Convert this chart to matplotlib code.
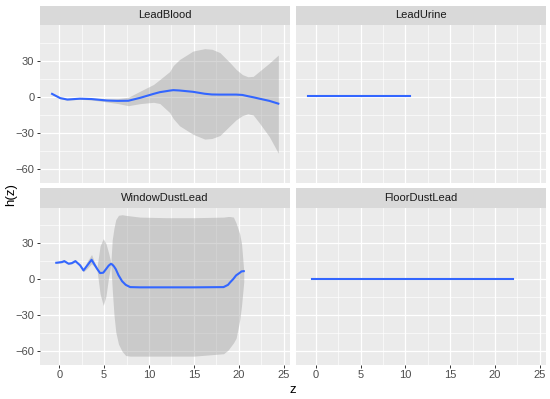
import numpy as np
import matplotlib.pyplot as plt
from matplotlib.ticker import MultipleLocator

plt.rcParams['font.family'] = ['Liberation Sans', 'DejaVu Sans']

# ---- data ----
blood_x = [-0.8, 0.1, 0.9, 2.3, 3.6, 5.3, 6.5, 7.7, 9.0, 10.5, 11.2, 12.3, 12.7, 13.4,
           14.9, 16.2, 17.0, 17.9, 19.0, 19.7, 20.4, 21.0, 21.6, 22.3, 23.4, 24.4]
blood_fit = [2.5, -1.0, -2.2, -1.5, -1.8, -3.0, -3.3, -3.2, -0.8, 2.5, 3.9, 5.2, 5.6, 5.3,
             4.2, 2.6, 2.0, 1.9, 1.9, 1.9, 1.6, 0.6, -0.3, -1.5, -3.3, -5.6]
blood_hi = [3.0, -0.5, -1.7, -1.0, -1.0, -1.8, -1.5, -0.3, 4.7, 10.3, 14.4, 21.0, 26.0, 31.0,
            38.0, 40.0, 39.5, 36.7, 28.5, 22.8, 18.5, 16.7, 17.0, 21.3, 28.0, 34.7]
blood_lo = [2.0, -1.5, -2.7, -2.0, -2.6, -4.2, -5.5, -7.3, -5.6, -4.5, -5.5, -13.0, -18.0, -24.0,
            -31.0, -35.0, -34.5, -32.0, -24.0, -19.0, -15.5, -14.0, -15.0, -21.7, -33.0, -46.7]

urine_x = [-0.9, 10.5]
urine_fit = [0.4, 0.4]

window_x = [-0.33, 0.3, 0.56, 1.04, 1.4, 1.8, 2.33, 2.7, 3.1, 3.6, 4.0, 4.2, 4.55, 4.9, 5.2,
            5.5, 5.75, 5.9, 6.1, 6.3, 6.6, 7.0, 7.4, 7.9, 9.0, 12.0, 15.0, 18.3, 18.8, 19.0,
            19.4, 19.7, 20.1, 20.3, 20.55]
window_fit = [13.9, 14.5, 15.3, 13.1, 13.6, 15.3, 11.7, 7.5, 11.5, 16.4, 11.5, 9.0, 5.3, 5.6, 8.5,
              11.5, 13.0, 12.5, 10.8, 8.5, 3.5, -1.5, -4.5, -6.4, -6.6, -6.6, -6.6, -6.4, -4.5, -2.7,
              0.5, 3.4, 5.5, 6.7, 6.9]
window_hi = [14.5, 15.1, 15.9, 13.7, 14.2, 15.9, 12.3, 8.5, 15.0, 20.8, 13.0, 10.0, 28.0, 34.0, 30.0,
             22.0, 14.0, 33.0, 43.0, 50.0, 53.5, 54.0, 53.5, 53.0, 52.0, 51.5, 51.5, 52.0, 52.5, 52.5,
             52.0, 47.0, 38.0, 30.0, 7.0]
window_lo = [13.3, 13.9, 14.7, 12.5, 13.0, 14.7, 11.1, 6.5, 9.0, 13.0, 10.0, 8.0, -12.0, -21.7, -14.0,
             2.0, 12.0, -8.0, -30.0, -44.0, -54.0, -60.0, -63.5, -64.0, -64.0, -64.0, -64.0, -62.0, -59.0, -57.0,
             -53.0, -49.0, -34.0, -22.0, -2.0]

floor_x = [-0.4, 22.0]
floor_fit = [0.4, 0.4]

panels = [
    ("LeadBlood", blood_x, blood_fit, blood_lo, blood_hi),
    ("LeadUrine", urine_x, urine_fit, None, None),
    ("WindowDustLead", window_x, window_fit, window_lo, window_hi),
    ("FloorDustLead", floor_x, floor_fit, None, None),
]

W, H = 550, 399
fig = plt.figure(figsize=(W / 100, H / 100), dpi=100)


def box(x0, y0, x1, y1):
    return [x0 / W, 1 - y1 / H, (x1 - x0) / W, (y1 - y0) / H]


cols = [(39.5, 290), (296, 546)]
rows = [(6, 25, 183), (188, 208, 365)]

for i, (name, x, fit, lo, hi) in enumerate(panels):
    r, c = divmod(i, 2)
    x0, x1 = cols[c]
    s0, p0, p1 = rows[r]
    ax = fig.add_axes(box(x0, p0, x1, p1))
    ax.set_facecolor('#EBEBEB')
    if lo is not None:
        ax.fill_between(x, lo, hi, color='#999999', alpha=0.4, linewidth=0, zorder=2)
    ax.plot(x, fit, color='#3366FF', lw=1.5, zorder=3)
    ax.set_xlim(-2.2, 25.7)
    ax.set_ylim(-71.4, 59.6)
    ax.xaxis.set_major_locator(MultipleLocator(5))
    ax.xaxis.set_minor_locator(MultipleLocator(2.5))
    ax.yaxis.set_major_locator(MultipleLocator(30))
    ax.yaxis.set_minor_locator(MultipleLocator(15))
    ax.grid(which='major', color='white', lw=0.9, zorder=1)
    ax.grid(which='minor', color='white', lw=0.45, zorder=1)
    ax.set_axisbelow(True)
    for sp in ax.spines.values():
        sp.set_visible(False)
    ax.tick_params(which='minor', length=0)
    ax.tick_params(which='major', length=2.2, width=0.7, color='#333333',
                   labelsize=8, labelcolor='#4D4D4D', pad=1.5)
    if c == 1:
        ax.tick_params(axis='y', left=False, labelleft=False)
    if r == 0:
        ax.tick_params(axis='x', bottom=False, labelbottom=False)
    # strip
    st = fig.add_axes(box(x0, s0, x1, p0))
    st.set_facecolor('#D9D9D9')
    st.set_xticks([])
    st.set_yticks([])
    for sp in st.spines.values():
        sp.set_visible(False)
    st.text(0.5, 0.5, name, ha='center', va='center', fontsize=8, color='#1A1A1A',
            transform=st.transAxes)

fig.text(293 / W, 1 - 390 / H, 'z', ha='center', va='center', fontsize=9.5)
fig.text(11 / W, 1 - 195 / H, 'h(z)', ha='center', va='center', rotation=90, fontsize=9.5)

fig.savefig('out.png', dpi=100)
